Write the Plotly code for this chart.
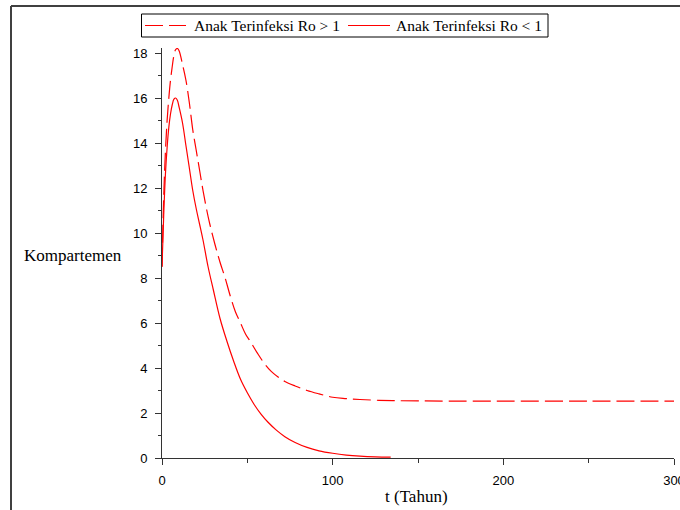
import plotly.graph_objects as go

# ---- data ----
t_ro_gt1 = [0, 1, 2, 3, 4, 5, 6, 7, 8, 9, 10, 12, 14, 16, 18, 20, 22, 24, 26, 28, 31, 34, 37, 40,
            43, 46, 49, 52, 56, 60, 64, 68, 72, 78, 85, 92, 100, 108, 116, 125, 135, 150, 170,
            200, 250, 300]
v_ro_gt1 = [8.5, 11.6, 13.6, 15.0, 16.0, 16.8, 17.4, 17.9, 18.15, 18.2, 18.1, 17.5, 16.8, 15.8,
            14.6, 13.7, 12.8, 11.9, 11.1, 10.4, 9.5, 8.7, 8.0, 7.2, 6.5, 6.0, 5.5, 5.15, 4.65, 4.2,
            3.85, 3.6, 3.4, 3.2, 3.0, 2.85, 2.7, 2.64, 2.6, 2.57, 2.55, 2.54, 2.53, 2.53, 2.53, 2.53]

t_ro_lt1 = [0, 1, 2, 3, 4, 5, 6, 7, 8, 9, 10, 12, 14, 16, 18, 20, 22, 24, 27, 30, 34, 38, 42, 46,
            50, 54, 58, 62, 67, 72, 78, 85, 92, 100, 108, 116, 125, 134]
v_ro_lt1 = [8.5, 10.8, 12.6, 13.8, 14.7, 15.3, 15.7, 15.95, 16.0, 15.9, 15.6, 14.9, 13.9, 12.9,
            11.9, 11.1, 10.4, 9.7, 8.5, 7.5, 6.2, 5.2, 4.3, 3.5, 2.9, 2.38, 1.95, 1.6, 1.24, 0.95,
            0.69, 0.47, 0.32, 0.21, 0.13, 0.08, 0.05, 0.04]

names = ["Anak Terinfeksi Ro > 1", "Anak Terinfeksi Ro < 1"]
x_ticks = [0, 100, 200, 300]
y_ticks = [0, 2, 4, 6, 8, 10, 12, 14, 16, 18]

# ---- layout geometry (pixels) ----
W, H = 680, 510
L, R, T, B = 162, 6, 48, 52
pw, ph = W - L - R, H - T - B

def px_x(p):
    return (p - L) / pw

def px_y(p):
    return (H - B - p) / ph

serif = "Liberation Serif, Times New Roman, serif"
sans = "Liberation Sans, Arial, sans-serif"
RED = "#ff0000"
DASH = "18px,6px"

fig = go.Figure()
fig.add_trace(go.Scatter(x=t_ro_gt1, y=v_ro_gt1, mode="lines", name=names[0],
                         line=dict(color=RED, width=1.2, dash=DASH, shape="spline")))
fig.add_trace(go.Scatter(x=t_ro_lt1, y=v_ro_lt1, mode="lines", name=names[1],
                         line=dict(color=RED, width=1.2, shape="spline")))

axis_common = dict(showline=True, linecolor="#333333", linewidth=1, showgrid=False,
                   zeroline=False, ticks="outside", tickcolor="#333333", ticklen=6,
                   tickfont=dict(family=sans, size=13, color="black"), mirror=False,
                   ticklabeloverflow="allow")

fig.update_xaxes(range=[0, 300], tickvals=x_ticks, ticklabelstandoff=4,
                 minor=dict(ticks="outside", ticklen=4, dtick=50, tickcolor="#333333"),
                 **axis_common)
fig.update_yaxes(range=[0, ph / 22.5], tickvals=y_ticks, ticklabelstandoff=5,
                 minor=dict(ticks="outside", ticklen=3, dtick=1, tickcolor="#333333"),
                 **axis_common)

# legend drawn as a framed box with samples and labels
leg_y = 25.5
shapes = [
    dict(type="rect", xref="paper", yref="paper", x0=px_x(141.5), x1=px_x(548),
         y0=px_y(14), y1=px_y(37), line=dict(color="black", width=1), fillcolor="white"),
    dict(type="line", xref="paper", yref="paper", x0=px_x(145), x1=px_x(186),
         y0=px_y(leg_y), y1=px_y(leg_y), line=dict(color=RED, width=1.2, dash=DASH)),
    dict(type="line", xref="paper", yref="paper", x0=px_x(348), x1=px_x(390),
         y0=px_y(leg_y), y1=px_y(leg_y), line=dict(color=RED, width=1.2)),
    # image frame
    dict(type="line", xref="paper", yref="paper", x0=px_x(11), x1=px_x(11),
         y0=px_y(6), y1=px_y(512), line=dict(color="#404040", width=2)),
    dict(type="line", xref="paper", yref="paper", x0=px_x(11), x1=px_x(682),
         y0=px_y(6), y1=px_y(6), line=dict(color="#404040", width=2)),
]

annotations = [
    dict(text=names[0], x=px_x(192), y=px_y(leg_y), xref="paper", yref="paper",
         xanchor="left", yanchor="middle", showarrow=False,
         font=dict(family=serif, size=15.5, color="black")),
    dict(text=names[1], x=px_x(394), y=px_y(leg_y), xref="paper", yref="paper",
         xanchor="left", yanchor="middle", showarrow=False,
         font=dict(family=serif, size=15.5, color="black")),
    dict(text="Kompartemen", x=px_x(22), y=px_y(255), xref="paper", yref="paper",
         xanchor="left", yanchor="middle", showarrow=False,
         font=dict(family=serif, size=17, color="black")),
    dict(text="t (Tahun)", x=px_x(416), y=px_y(496), xref="paper", yref="paper",
         xanchor="center", yanchor="middle", showarrow=False,
         font=dict(family=serif, size=17, color="black")),
]

fig.update_layout(
    width=W, height=H,
    margin=dict(l=L, r=R, t=T, b=B, autoexpand=False),
    paper_bgcolor="white", plot_bgcolor="white",
    showlegend=False,
    annotations=annotations,
    shapes=shapes,
)

fig.write_html("out.html", config={"displayModeBar": False},
               post_script="document.body.style.margin='0';document.body.style.overflow='hidden';")
